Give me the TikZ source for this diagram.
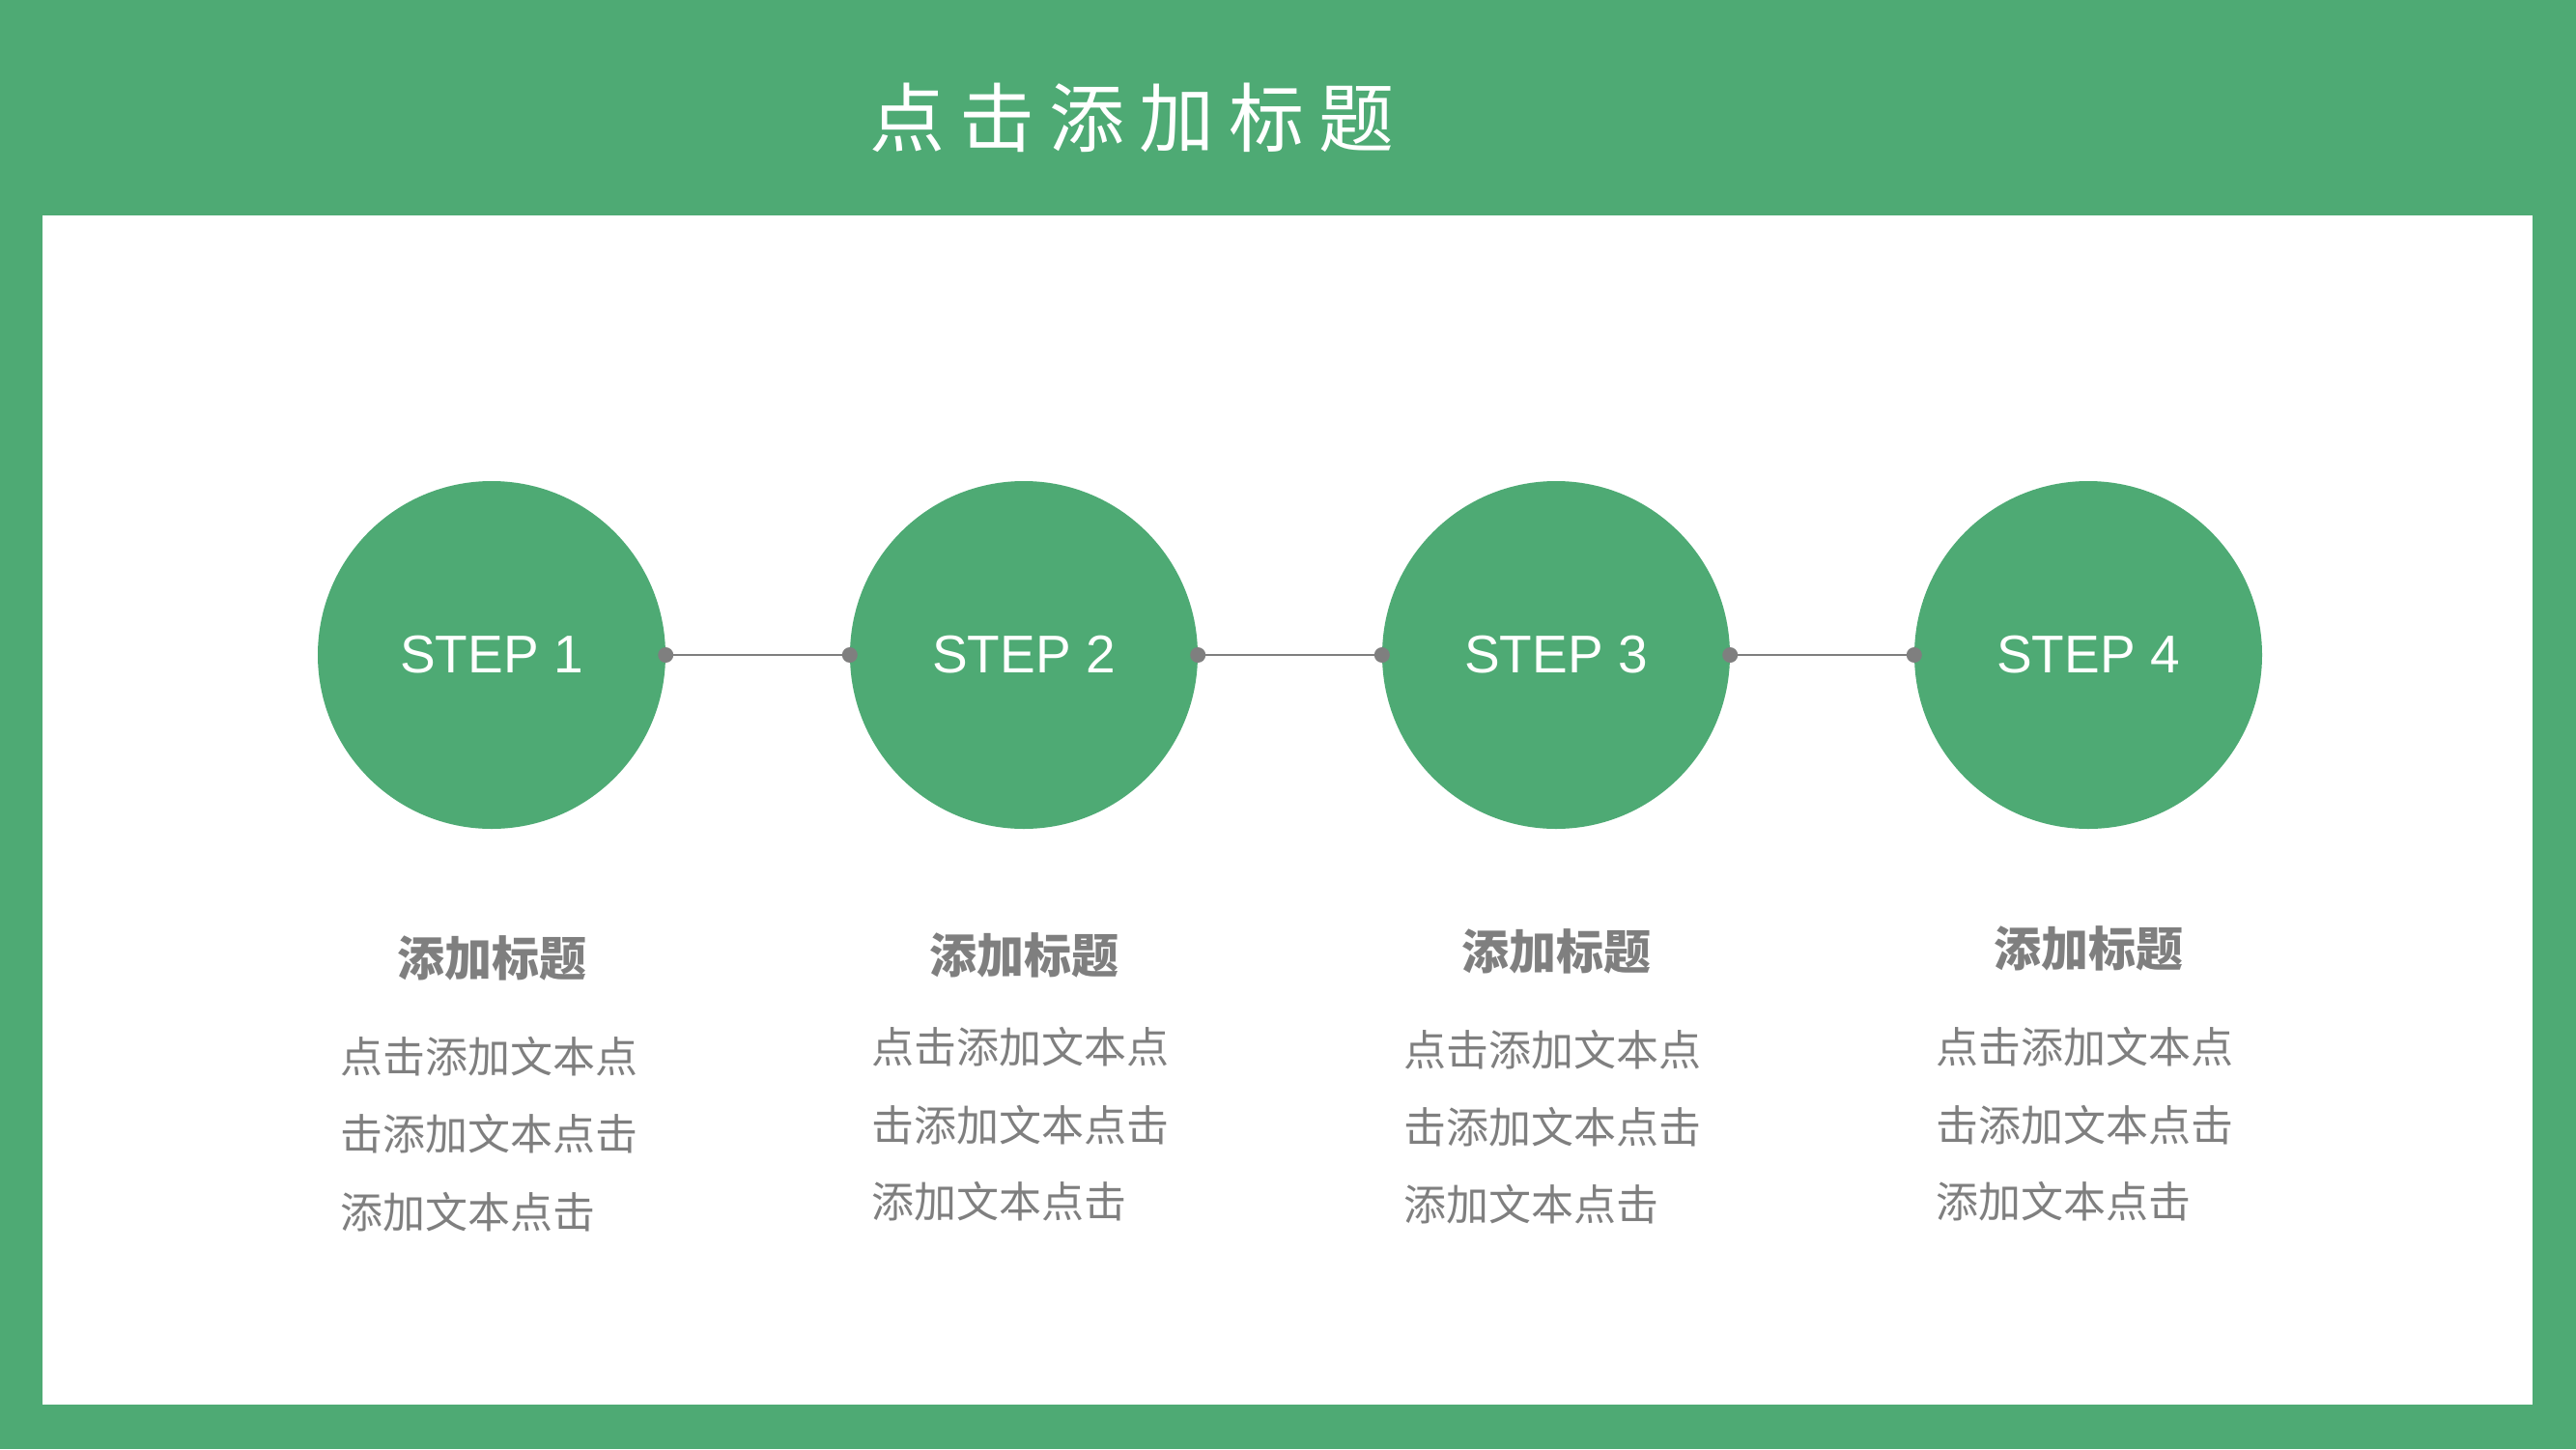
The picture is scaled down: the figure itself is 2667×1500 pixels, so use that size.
\documentclass[tikz,border=0pt]{standalone}
\usepackage{fontspec}
\setsansfont{Liberation Sans}
\newfontfamily\cjk{Noto Sans CJK SC}
\definecolor{bggreen}{HTML}{4EAA74}
\definecolor{txtgray}{HTML}{7F7F7F}
\begin{document}
\begin{tikzpicture}[x=1pt,y=-1pt,
  stepcircle/.style={circle,fill=bggreen,minimum size=360pt,inner sep=0pt,text=white,
    font=\sffamily\fontsize{55}{58}\selectfont},
  joint/.style={circle,fill=txtgray,minimum size=16pt,inner sep=0pt},
  link/.style={draw=txtgray,line width=2pt},
  headtxt/.style={text=txtgray,font=\cjk\bfseries\fontsize{49}{52}\selectfont,inner sep=0pt},
  bodytxt/.style={text=txtgray,font=\cjk\fontsize{44}{47}\selectfont,inner sep=0pt,anchor=west}]
\fill[bggreen] (0,0) rectangle (2667,1500);
\fill[white] (44,223) rectangle (2622,1454);
\useasboundingbox (0,0) rectangle (2667,1500);
\node[text=white,font=\cjk\fontsize{78}{82}\selectfont,inner sep=0pt] (title) at (1172,122) {点\hspace{15pt}击\hspace{15pt}添\hspace{15pt}加\hspace{15pt}标\hspace{15pt}题};
% circles
\node[stepcircle] (s1) at (509,678) {STEP 1};
\node[stepcircle] (s2) at (1060,678) {STEP 2};
\node[stepcircle] (s3) at (1611,678) {STEP 3};
\node[stepcircle] (s4) at (2162,678) {STEP 4};
% joints
\node[joint] (j1r) at (s1.east) {};
\node[joint] (j2l) at (s2.west) {};
\node[joint] (j2r) at (s2.east) {};
\node[joint] (j3l) at (s3.west) {};
\node[joint] (j3r) at (s3.east) {};
\node[joint] (j4l) at (s4.west) {};
\draw[link] (j1r) -- (j2l);
\draw[link] (j2r) -- (j3l);
\draw[link] (j3r) -- (j4l);
% headings
\node[headtxt] (h1) at (509,992) {添加标题};
\node[headtxt] (h2) at (1060,989) {添加标题};
\node[headtxt] (h3) at (1611,985) {添加标题};
\node[headtxt] (h4) at (2162,982) {添加标题};
% body
\node[bodytxt] (a1) at (352,1094) {点击添加文本点};
\node[bodytxt] (b1) at (352,1174) {击添加文本点击};
\node[bodytxt] (c1) at (352,1255) {添加文本点击};
\node[bodytxt] (a2) at (902,1084) {点击添加文本点};
\node[bodytxt] (b2) at (902,1165) {击添加文本点击};
\node[bodytxt] (c2) at (902,1244) {添加文本点击};
\node[bodytxt] (a3) at (1453,1087) {点击添加文本点};
\node[bodytxt] (b3) at (1453,1167) {击添加文本点击};
\node[bodytxt] (c3) at (1453,1247) {添加文本点击};
\node[bodytxt] (a4) at (2004,1084) {点击添加文本点};
\node[bodytxt] (b4) at (2004,1165) {击添加文本点击};
\node[bodytxt] (c4) at (2004,1244) {添加文本点击};
\end{tikzpicture}
\end{document}
